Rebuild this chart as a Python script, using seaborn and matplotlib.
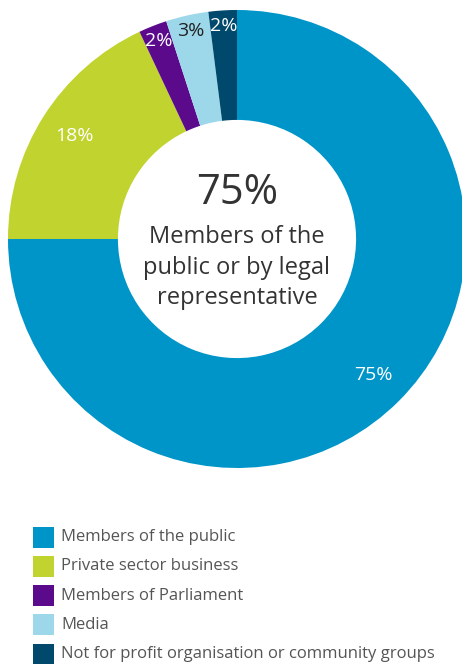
import numpy as np
import matplotlib
matplotlib.use("Agg")
import matplotlib.pyplot as plt
from matplotlib.patches import Rectangle
import seaborn as sns

categories = [
    "Members of the public",
    "Private sector business",
    "Members of Parliament",
    "Media",
    "Not for profit organisation or community groups",
]
shares = [75, 18, 2, 3, 2]
slice_labels = ["75%", "18%", "2%", "3%", "2%"]
label_colors = ["white", "white", "white", "#222222", "white"]
palette = ["#0095C8", "#C0D32E", "#5B0A8C", "#9DD7EA", "#00486C"]
center_value = "75%"
center_caption = "Members of the\npublic or by legal\nrepresentative"

sns.set_theme(style="white")
plt.rcParams["font.family"] = ["Open Sans", "DejaVu Sans"]
colors = sns.color_palette(palette)

W, H = 462, 664
fig = plt.figure(figsize=(W / 100, H / 100), dpi=100)

# donut axes: centre (237, 239) px, radius 229 px
cx, cy, r = 237, 239, 229
ax = fig.add_axes([(cx - r) / W, (H - cy - r) / H, 2 * r / W, 2 * r / H])
ring = 0.48
wedges, _ = ax.pie(
    shares,
    colors=colors,
    startangle=90,
    counterclock=False,
    radius=1.0,
    wedgeprops=dict(width=ring, edgecolor="none", linewidth=0),
)
ax.set_xlim(-1, 1)
ax.set_ylim(-1, 1)
ax.set_aspect("equal")
ax.axis("off")

# slice labels: placed along each wedge's mid-angle
for w, lab, col, val in zip(wedges, slice_labels, label_colors, shares):
    ang = np.deg2rad((w.theta1 + w.theta2) / 2)
    rad = 0.84 if val >= 10 else 0.93
    ax.text(rad * np.cos(ang), rad * np.sin(ang), lab, color=col,
            ha="center", va="center", fontsize=14)

ax.text(0, 0.20, center_value, ha="center", va="center",
        fontsize=30, color="#333333")
ax.text(0, -0.125, center_caption, ha="center", va="center",
        fontsize=17, color="#333333", linespacing=1.38)

# legend
x0, y_first, step, box = 33, 537, 29.3, 21
for i, (name, col) in enumerate(zip(categories, colors)):
    yc = y_first + i * step
    fig.patches.append(Rectangle((x0 / W, (H - yc - box / 2) / H), box / W, box / H,
                                 transform=fig.transFigure, facecolor=col,
                                 edgecolor="none"))
    fig.text(61 / W, (H - yc) / H, name, ha="left", va="center",
             fontsize=12, color="#555555")

fig.savefig("out.png", dpi=100)
